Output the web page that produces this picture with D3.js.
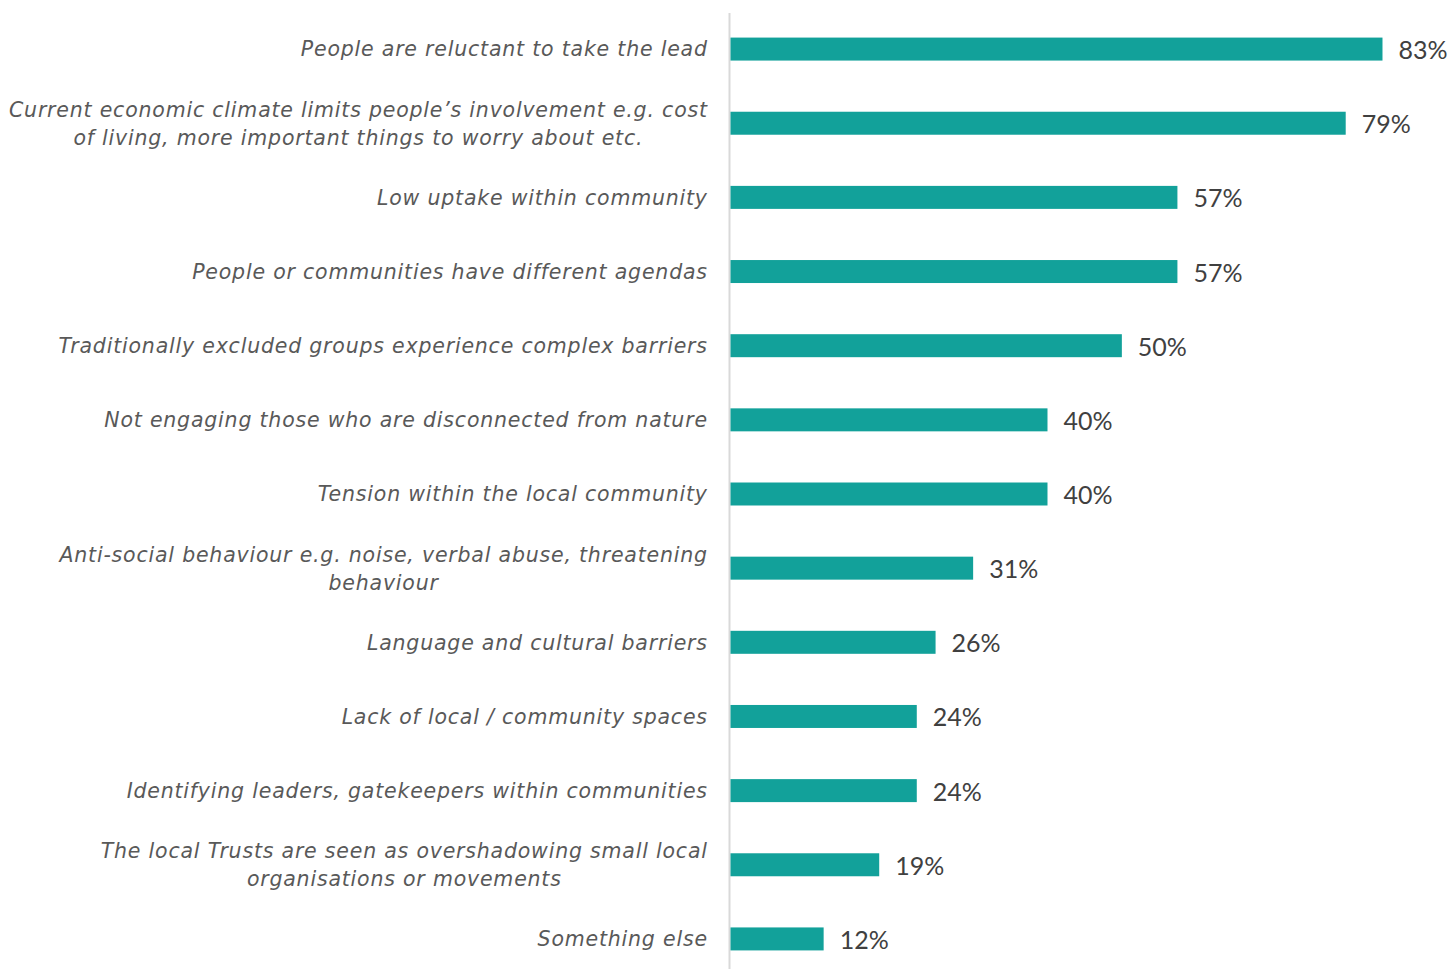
<!DOCTYPE html>
<html><head><meta charset="utf-8">
<script src="https://cdn.jsdelivr.net/npm/d3@7"></script>
<style>body{margin:0;background:#fff}svg{display:block}</style>
</head><body>
<svg id="c" width="1451" height="969"></svg>
<script>
const categories = [
  ["People are reluctant to take the lead"],
  ["Current economic climate limits people\u2019s involvement e.g. cost","of living, more important things to worry about etc."],
  ["Low uptake within community"],
  ["People or communities have different agendas"],
  ["Traditionally excluded groups experience complex barriers"],
  ["Not engaging those who are disconnected from nature"],
  ["Tension within the local community"],
  ["Anti-social behaviour e.g. noise, verbal abuse, threatening","behaviour"],
  ["Language and cultural barriers"],
  ["Lack of local / community spaces"],
  ["Identifying leaders, gatekeepers within communities"],
  ["The local Trusts are seen as overshadowing small local","organisations or movements"],
  ["Something else"]
];
const values = [83.3, 78.6, 57.1, 57.1, 50.0, 40.5, 40.5, 31.0, 26.2, 23.8, 23.8, 19.0, 11.9];
const valueLabels = ["83%","79%","57%","57%","50%","40%","40%","31%","26%","24%","24%","19%","12%"];

const svg = d3.select("#c");
const ids = categories.map((c,i)=>i);
const y = d3.scaleBand().domain(ids).range([12, 976]).paddingInner(0.69).paddingOuter(0.345);
const x = d3.scaleLinear().domain([0, 100]).range([730.5, 730.5 + 782.7]);

svg.append("line").attr("x1",729.5).attr("x2",729.5).attr("y1",13).attr("y2",969)
  .attr("stroke","#d9d9d9").attr("stroke-width",2);

svg.selectAll("rect.bar").data(values).join("rect").attr("class","bar")
  .attr("x", x(0)).attr("y",(d,i)=>y(i)).attr("height", y.bandwidth())
  .attr("width", d=>x(d)-x(0)).attr("fill","#12a19a");

svg.selectAll("text.val").data(values).join("text").attr("class","val")
  .attr("x", d=>x(d)+16).attr("y",(d,i)=>y(i)+y.bandwidth()/2).attr("dy","0.4em")
  .attr("font-family","Lato, 'Open Sans', sans-serif").attr("font-size",25).attr("fill","#404040")
  .text((d,i)=>valueLabels[i]);

const labelRight = 707.8, lineH = 28;
categories.forEach((lines,i)=>{
  const cy = y(i)+y.bandwidth()/2;
  const g = svg.append("g");
  const ts = lines.map((t,j)=> g.append("text")
    .attr("y", cy + (j-(lines.length-1)/2)*lineH).attr("dy","0.36em")
    .attr("text-anchor","middle")
    .attr("font-family","'DejaVu Sans', sans-serif").attr("font-style","italic")
    .attr("font-size",20.5).attr("letter-spacing","0.8px").attr("fill","#595959").text(t));
  const widths = ts.map(t=>t.node().getComputedTextLength());
  const maxW = d3.max(widths);
  ts.forEach(t=>t.attr("x", labelRight - maxW/2));
});
</script>
</body></html>
